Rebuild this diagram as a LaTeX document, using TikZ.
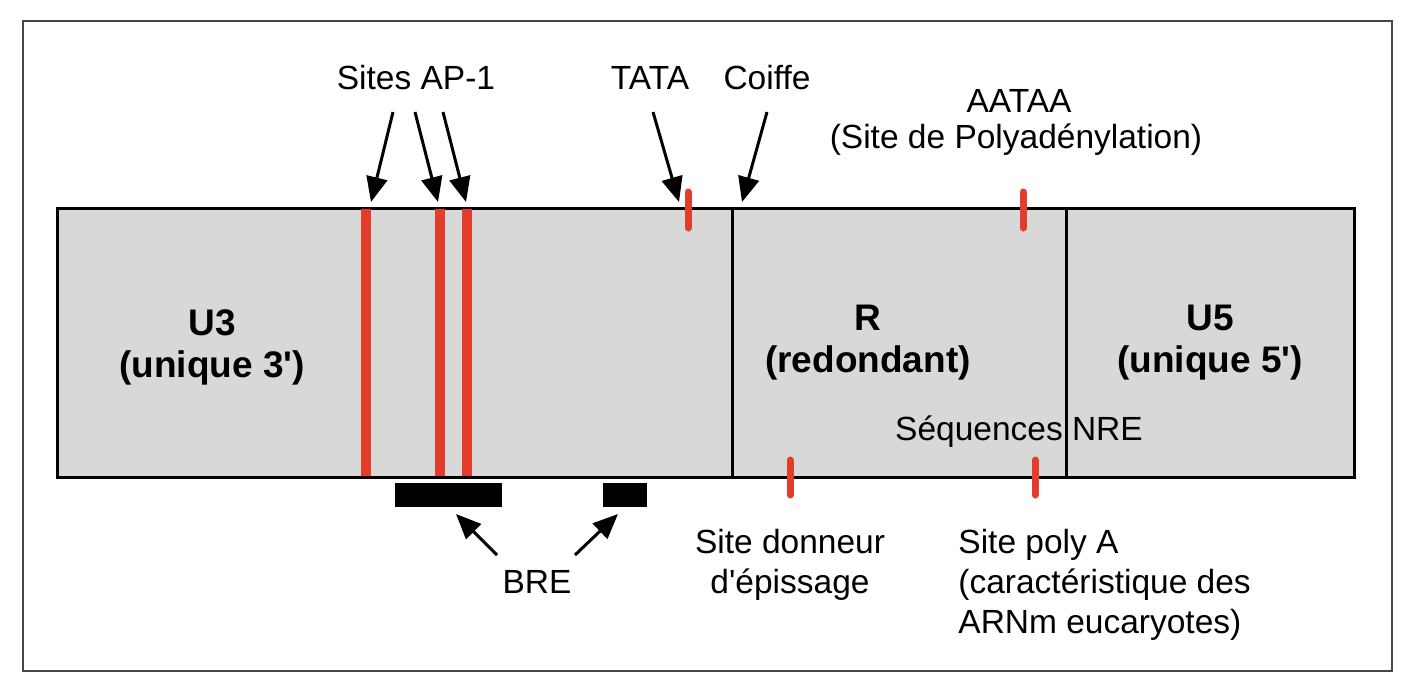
\documentclass[tikz,border=0pt]{standalone}
\usepackage{fontspec}
\setmainfont{Liberation Sans}
\usetikzlibrary{arrows.meta}
\definecolor{boxgray}{RGB}{216,216,216}
\definecolor{sitered}{RGB}{228,60,42}
\definecolor{framegray}{RGB}{70,70,70}
\begin{document}
\begin{tikzpicture}[x=0.5pt,y=-0.5pt,
  region/.style={draw=black, line width=1.5pt, fill=boxgray, anchor=north west, inner sep=0pt, outer sep=0pt, minimum height=134.5pt},
  biglabel/.style={font=\fontsize{18.5}{21}\selectfont\bfseries, align=center, inner sep=0pt},
  lbl/.style={font=\fontsize{16.75}{20}\selectfont, inner sep=0pt},
  apbar/.style={draw=sitered, line width=5pt},
  tick/.style={draw=sitered, line width=3.5pt, line cap=round},
  arr/.style={draw=black, line width=1.5pt, -{Triangle[length=12.5pt,width=10.5pt]}},
  brebox/.style={fill=black, draw=none, anchor=north west, inner sep=0pt, outer sep=0pt, minimum height=12pt}
]
\useasboundingbox (0,0) rectangle (1413,685);
% outer frame
\node[draw=framegray, line width=1pt, anchor=north west, inner sep=0pt, minimum width=684.5pt, minimum height=325pt] (frame) at (22,20) {};

% regions
\node[region, minimum width=337.5pt] (u3) at (57,208) {};
\node[region, minimum width=167pt] (r) at (732,208) {};
\node[region, minimum width=144pt] (u5) at (1066,208) {};

% AP-1 bars
\coordinate (b1t) at (366,209); \coordinate (b1b) at (366,476);
\coordinate (b2t) at (440,209); \coordinate (b2b) at (440,476);
\coordinate (b3t) at (467,209); \coordinate (b3b) at (467,476);
\draw[apbar] (b1t) -- (b1b);
\draw[apbar] (b2t) -- (b2b);
\draw[apbar] (b3t) -- (b3b);

% short ticks
\coordinate (tatat) at (688,192); \coordinate (tatab) at (688,228);
\coordinate (aatt) at (1023,192); \coordinate (aatb) at (1023,228);
\coordinate (dont) at (790,460); \coordinate (donb) at (790,495);
\coordinate (polt) at (1035,460); \coordinate (polb) at (1035,495);
\draw[tick] (tatat) -- (tatab);
\draw[tick] (aatt) -- (aatb);
\draw[tick] (dont) -- (donb);
\draw[tick] (polt) -- (polb);

% region labels
\node[biglabel] (u3l) at (212,347) {U3\\(unique 3\textquotesingle)};
\node[biglabel] (rl) at (868,343) {R\\(redondant)};
\node[biglabel] (u5l) at (1210,343) {U5\\(unique 5\textquotesingle)};

% top labels
\node[lbl] (ap1) at (416,78) {Sites AP-1};
\node[lbl] (tata) at (650,78) {TATA};
\node[lbl] (coiffe) at (767,78) {Coiffe};
\node[lbl] (aataa) at (1019,101) {AATAA};
\node[lbl] (polyad) at (1016,140) {(Site de Polyadénylation)};
\node[lbl] (nre) at (1019,432) {Séquences NRE};

% arrow coordinates
\coordinate (a1s) at (393,112); \coordinate (a1e) at (371,202);
\coordinate (a2s) at (415,112); \coordinate (a2e) at (438,202);
\coordinate (a3s) at (443,112); \coordinate (a3e) at (466,202);
\coordinate (tas) at (653,112); \coordinate (tae) at (679,202);
\coordinate (cos) at (767,112); \coordinate (coe) at (742,202);
\draw[arr] (a1s) -- (a1e);
\draw[arr] (a2s) -- (a2e);
\draw[arr] (a3s) -- (a3e);
\draw[arr] (tas) -- (tae);
\draw[arr] (cos) -- (coe);

% BRE boxes
\node[brebox, minimum width=53.5pt] (bre1) at (395,483) {};
\node[brebox, minimum width=22pt] (bre2) at (603,483) {};
\node[lbl] (bre) at (537,582) {BRE};
\coordinate (br1s) at (497,555); \coordinate (br1e) at (456,514);
\coordinate (br2s) at (575,555); \coordinate (br2e) at (618,514);
\draw[arr] (br1s) -- (br1e);
\draw[arr] (br2s) -- (br2e);

% bottom labels
\node[lbl, align=center] (donneur) at (790,565) {Site donneur\\d\textquotesingle épissage};
\node[lbl, align=left, anchor=west] (polya) at (958,585) {Site poly A\\(caractéristique des\\ARNm eucaryotes)};
\end{tikzpicture}
\end{document}
